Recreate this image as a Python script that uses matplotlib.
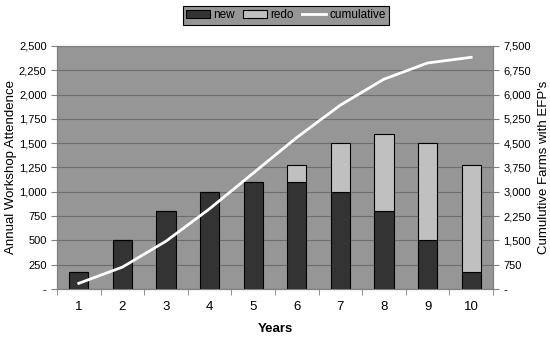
import matplotlib.pyplot as plt
import numpy as np

plt.rcParams['font.family'] = ['Liberation Sans', 'DejaVu Sans']

years = [1, 2, 3, 4, 5, 6, 7, 8, 9, 10]
new = [175, 500, 800, 1000, 1100, 1100, 1000, 800, 500, 175]
redo = [0, 0, 0, 0, 0, 180, 500, 790, 1000, 1105]
cumulative = [175, 675, 1475, 2475, 3575, 4675, 5675, 6475, 6975, 7150]

def fmt(v):
    return '-' if v == 0 else f'{int(v):,}'

fig = plt.figure(figsize=(5.5, 3.38), dpi=100)
ax = fig.add_axes([0.1036, 0.145, 0.7927, 0.719])
ax.set_facecolor('#969696')

x = np.arange(len(years))
b1 = ax.bar(x, new, width=0.44, color='#333333', edgecolor='black', linewidth=0.8, label='new', zorder=3)
b2 = ax.bar(x, redo, width=0.44, bottom=new, color='#c0c0c0', edgecolor='black', linewidth=0.8, label='redo', zorder=3)

ax.set_xlim(-0.5, len(years) - 0.5)
ax.set_ylim(0, 2500)
yt = np.arange(0, 2501, 250)
ax.set_yticks(yt)
ax.set_yticklabels([fmt(v) for v in yt], fontsize=8)
ax.yaxis.grid(True, color='#6e6e6e', linewidth=0.8, zorder=0)
ax.set_axisbelow(True)
ax.set_xticks(x)
ax.set_xticklabels([str(y) for y in years], fontsize=9.5)
ax.set_xticks(np.arange(-0.5, len(years)), minor=True)
ax.tick_params(axis='x', which='major', length=0, pad=9)
ax.tick_params(axis='x', which='minor', length=4, color='#808080')
ax.tick_params(axis='y', length=4, color='#808080')
for s in ax.spines.values():
    s.set_color('#808080')
ax.set_xlabel('Years', fontsize=9.5, fontweight='bold', labelpad=7)
ax.set_ylabel('Annual Workshop Attendence', fontsize=9.5, labelpad=1)

ax2 = ax.twinx()
line, = ax2.plot(x, cumulative, color='white', linewidth=2, label='cumulative', zorder=4)
ax2.set_ylim(0, 7500)
yt2 = np.arange(0, 7501, 750)
ax2.set_yticks(yt2)
ax2.set_yticklabels([fmt(v) for v in yt2], fontsize=8)
ax2.tick_params(axis='y', length=4, color='#808080')
for s in ax2.spines.values():
    s.set_color('#808080')
ax2.set_ylabel('Cumulutive Farms with EFP\'s', fontsize=9.5, labelpad=5)

leg = fig.legend([b1, b2, line], ['new', 'redo', 'cumulative'], loc='upper center',
                 bbox_to_anchor=(0.52, 1.0), ncol=3, fontsize=8.5, frameon=True,
                 fancybox=False, edgecolor='black', facecolor='#969696',
                 handlelength=2.0, handletextpad=0.3, columnspacing=0.7,
                 borderpad=0.3, framealpha=1)
leg.get_frame().set_linewidth(0.8)

fig.savefig('out.png', dpi=100)
